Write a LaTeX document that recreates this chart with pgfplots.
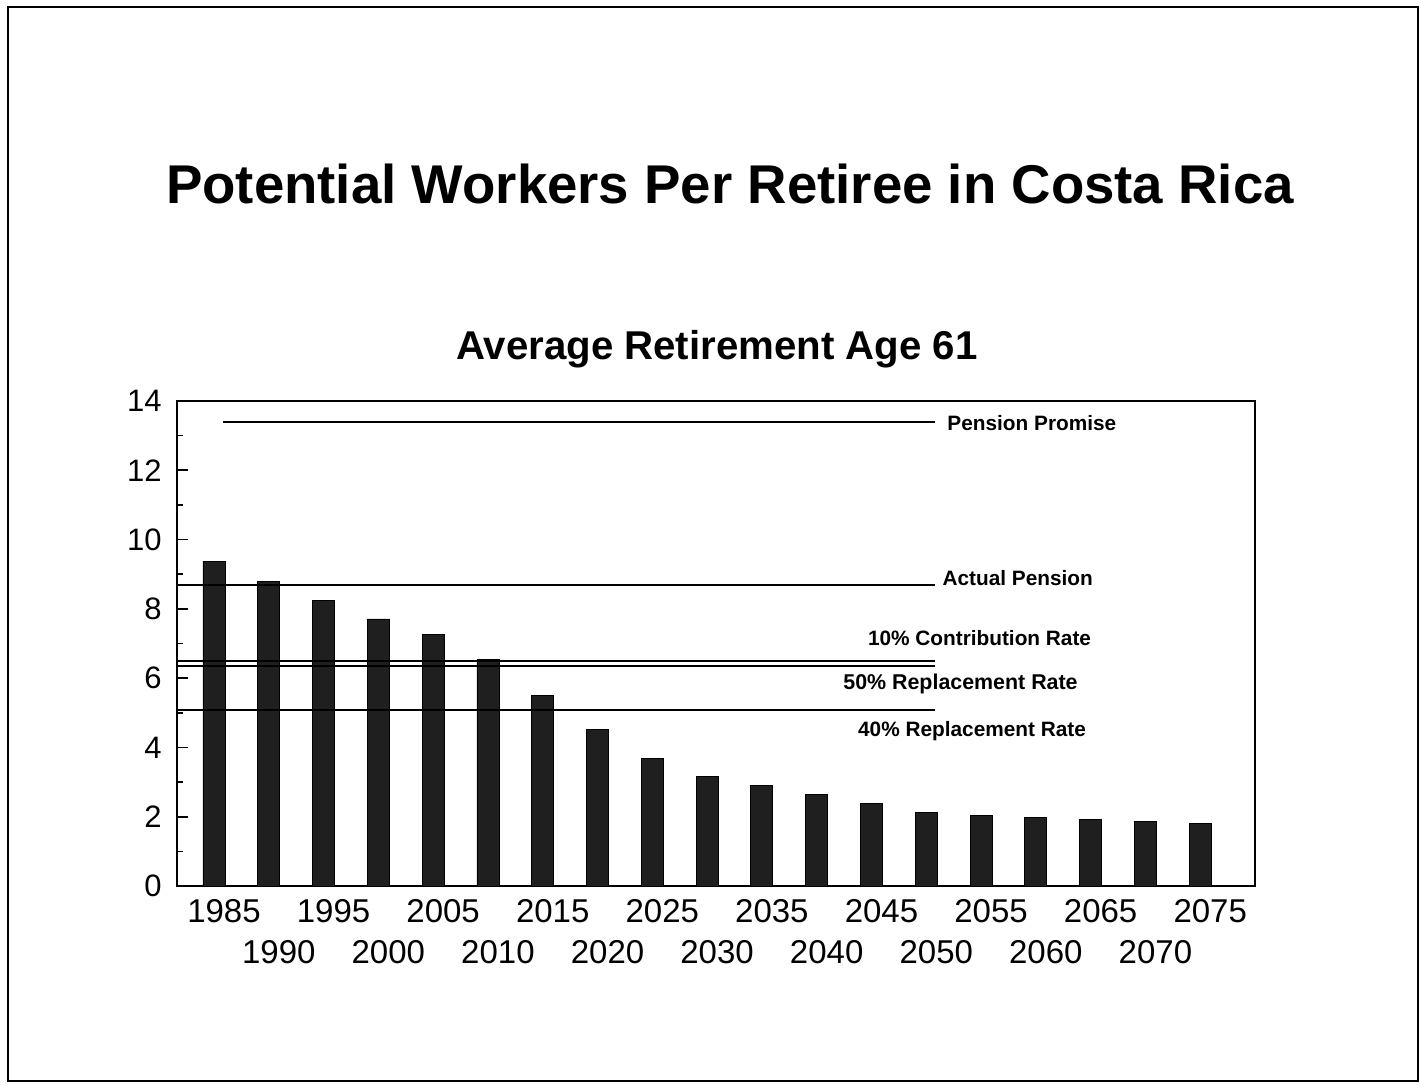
\documentclass[border=0pt]{standalone}
\usepackage{pgfplots}
\pgfplotsset{compat=1.18}
\usepackage{fontspec}
\setmainfont{Liberation Sans}
\begin{document}
\begin{tikzpicture}
\path[use as bounding box] (0,0) rectangle (710.5pt,542pt);
\draw[line width=1.2pt] (4pt,1.5pt) rectangle (709pt,538.5pt);
\node[anchor=base, font=\bfseries\fontsize{27.3}{32}\selectfont] at (365pt,440pt) {Potential Workers Per Retiree in Costa Rica};
\node[anchor=base, font=\bfseries\fontsize{20.1}{24}\selectfont] at (358.5pt,362pt) {Average Retirement Age 61};
\begin{axis}[
  at={(88.5pt,99pt)}, anchor=south west,
  scale only axis, width=539pt, height=242.5pt,
  xmin=-0.675, xmax=19.0, ymin=0, ymax=14,
  axis line style={line width=1pt},
  ytick={0,2,...,14}, minor y tick num=1,
  ytick pos=left, tick align=inside,
  major tick length=5.5pt, minor tick length=3pt,
  every tick/.style={black, line width=0.8pt},
  /pgf/number format/assume math mode=true,
  yticklabel style={anchor=east, inner sep=0pt, xshift=-7.5pt, font=\fontsize{15.5}{18}\selectfont},
  xtick={0,2,...,18},
  xticklabels={1985,1995,2005,2015,2025,2035,2045,2055,2065,2075},
  extra x ticks={1,3,...,17},
  extra x tick labels={1990,2000,2010,2020,2030,2040,2050,2060,2070},
  x tick style={draw=none},
  extra x tick style={tick label style={yshift=-20.5pt}, x tick style={draw=none}},
  xticklabel style={anchor=north, inner sep=0pt, yshift=-6.5pt, xshift=5pt, font=\fontsize{16.5}{19}\selectfont},
  clip=false,
]
\addplot[ybar, bar width=11pt, fill=black!88, draw=black] coordinates {
(0,9.38) (1,8.80) (2,8.23) (3,7.71) (4,7.25) (5,6.54) (6,5.51) (7,4.52) (8,3.68) (9,3.16)
(10,2.89) (11,2.63) (12,2.37) (13,2.12) (14,2.04) (15,1.97) (16,1.92) (17,1.86) (18,1.81)};
\addplot[black, line width=1pt] coordinates {(0.16,13.39) (13.16,13.39)};
\addplot[black, line width=1pt] coordinates {(-0.675,8.70) (13.16,8.70)};
\addplot[black, line width=1pt] coordinates {(-0.675,6.50) (13.16,6.50)};
\addplot[black, line width=1pt] coordinates {(-0.675,6.36) (13.16,6.36)};
\addplot[black, line width=1pt] coordinates {(-0.675,5.08) (13.16,5.08)};
\node[anchor=west, inner sep=0pt, font=\bfseries\fontsize{10.4}{12}\selectfont] at (axis cs:13.38,13.36) {Pension Promise};
\node[anchor=west, inner sep=0pt, font=\bfseries\fontsize{10.4}{12}\selectfont] at (axis cs:13.29,8.90) {Actual Pension};
\node[anchor=west, inner sep=0pt, font=\bfseries\fontsize{10.4}{12}\selectfont] at (axis cs:11.93,7.16) {10\% Contribution Rate};
\node[anchor=west, inner sep=0pt, font=\bfseries\fontsize{10.7}{12}\selectfont] at (axis cs:11.48,5.82) {50\% Replacement Rate};
\node[anchor=west, inner sep=0pt, font=\bfseries\fontsize{10.4}{12}\selectfont] at (axis cs:11.75,4.47) {40\% Replacement Rate};
\end{axis}
\end{tikzpicture}
\end{document}
